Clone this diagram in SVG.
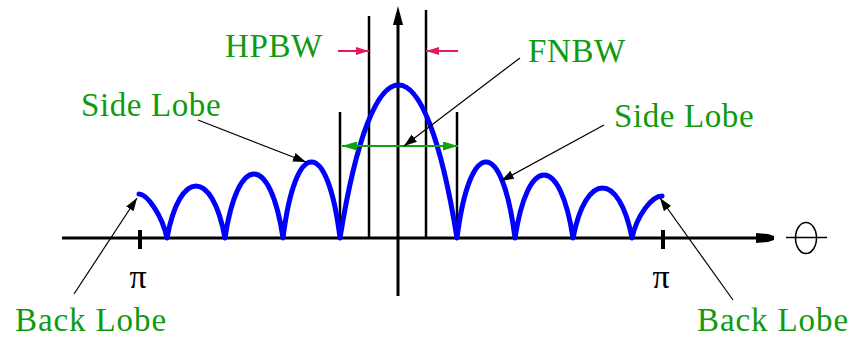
<svg xmlns="http://www.w3.org/2000/svg" width="854" height="337" viewBox="0 0 854 337">
<style>
.lbl{font-family:"Liberation Serif","Times New Roman",serif;fill:#109a10;font-size:33px;letter-spacing:0.6px}
.pi{font-family:"Liberation Serif","Times New Roman",serif;fill:#000;font-size:34px;text-anchor:middle}
.ax{stroke:#000;stroke-width:3;fill:none}
.vl{stroke:#000;stroke-width:2.5;fill:none}
.ptr{stroke:#000;stroke-width:1.2;fill:none;marker-end:url(#ah)}
.red{stroke:#e4195a;stroke-width:2;fill:none;marker-end:url(#rh)}
.grn{stroke:#10a010;stroke-width:2;fill:none;marker-start:url(#gs);marker-end:url(#ge)}
</style>
<defs>
<marker id="ah" markerUnits="userSpaceOnUse" markerWidth="14" markerHeight="10" refX="13" refY="4.5" orient="auto"><path d="M0,0 L13,4.5 L0,9 Z" fill="#000"/></marker>
<marker id="rh" markerUnits="userSpaceOnUse" markerWidth="14" markerHeight="10" refX="13" refY="4" orient="auto"><path d="M0,0 L13,4 L0,8 Z" fill="#e4195a"/></marker>
<marker id="ge" markerUnits="userSpaceOnUse" markerWidth="16" markerHeight="10" refX="15" refY="4.5" orient="auto"><path d="M0,0 L15,4.5 L0,9 Z" fill="#10a010"/></marker>
<marker id="gs" markerUnits="userSpaceOnUse" markerWidth="16" markerHeight="10" refX="0" refY="4.5" orient="auto"><path d="M15,0 L0,4.5 L15,9 Z" fill="#10a010"/></marker>
</defs>
<rect width="854" height="337" fill="#fff"/>
<g id="axes">
<line class="ax" x1="62" y1="238" x2="758" y2="238"/>
<polygon points="756,233 768,234 774,236 774,240 768,242 756,243" fill="#000"/>
<line class="ax" x1="398" y1="22" x2="398" y2="296"/>
<polygon points="398,6 403,25 393,25" fill="#000"/>
<line x1="140" y1="230" x2="140" y2="249" stroke="#000" stroke-width="4"/>
<line x1="663" y1="230" x2="663" y2="249" stroke="#000" stroke-width="4"/>
</g>
<g id="theta">
<ellipse cx="806" cy="238" rx="10.5" ry="15.5" fill="none" stroke="#000" stroke-width="1.5"/>
<line x1="786" y1="237.5" x2="827" y2="237.5" stroke="#000" stroke-width="1.5"/>
</g>
<g id="beam-lines">
<line class="vl" x1="369" y1="16" x2="369" y2="238"/>
<line class="vl" x1="426" y1="10" x2="426" y2="238"/>
<line class="vl" x1="340" y1="112" x2="340" y2="238"/>
<line class="vl" x1="457" y1="112" x2="457" y2="238"/>
</g>
<g id="pattern">
<path d="M139,194 C147,194 162,215 167,238 C179.8,168.7 212.2,168.7 225,238 C237.8,152.7 270.2,152.7 283,238 C295.5,136.7 327.5,136.7 340,238 C372.8,34 424.2,34 457,238 C469.8,136.7 502.2,136.7 515,238 C527.8,154 560.2,154 573,238 C586,171.3 619,171.3 632,238 C637,215 652,196 662,196" fill="none" stroke="#0000ff" stroke-width="5" stroke-linejoin="round" stroke-linecap="round"/>
</g>
<g id="connectors">
<line class="red" x1="338" y1="51" x2="369" y2="51"/>
<line class="red" x1="458" y1="51" x2="426" y2="51"/>
<line class="grn" x1="342" y1="146" x2="458" y2="146"/>
<line class="ptr" x1="520" y1="58" x2="404" y2="146"/>
<line class="ptr" x1="198" y1="120" x2="306" y2="162"/>
<line class="ptr" x1="604" y1="125" x2="501" y2="181"/>
<line class="ptr" x1="74" y1="294" x2="137" y2="198"/>
<line class="ptr" x1="733" y1="300" x2="660" y2="198"/>
</g>
<g id="labels">
<text id="hpbw" class="lbl" x="225" y="57">HPBW</text>
<text id="fnbw" class="lbl" x="528" y="62">FNBW</text>
<text id="side-left" class="lbl" x="81" y="116">Side Lobe</text>
<text id="side-right" class="lbl" x="614" y="127">Side Lobe</text>
<text id="back-left" class="lbl" x="15" y="331" style="letter-spacing:0.9px">Back Lobe</text>
<text id="back-right" class="lbl" x="697" y="331" style="letter-spacing:0.9px">Back Lobe</text>
<text id="pi-left" class="pi" x="138" y="288">π</text>
<text id="pi-right" class="pi" x="661" y="288">π</text>
</g>
</svg>
